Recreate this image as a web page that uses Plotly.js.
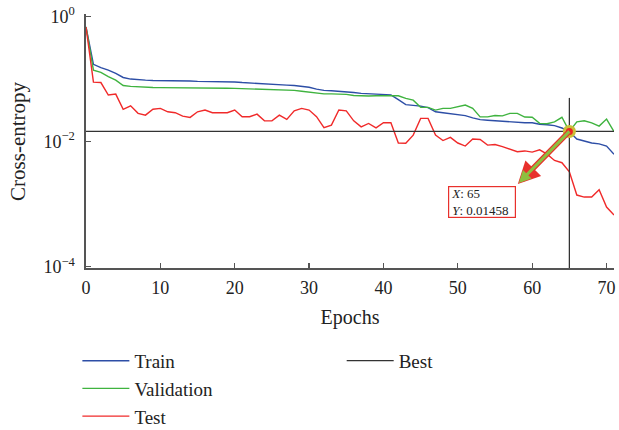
<!DOCTYPE html>
<html><head><meta charset="utf-8">
<script src="https://cdn.plot.ly/plotly-3.0.1.min.js"></script>
<style>html,body{margin:0;padding:0;background:#fff}#chart{width:619px;height:430px}</style>
</head><body><div id="chart"></div>
<script>
const epochs = [0,1,2,3,4,5,6,7,8,9,10,11,12,13,14,15,16,17,18,19,20,21,22,23,24,25,26,27,28,29,30,31,32,33,34,35,36,37,38,39,40,41,42,43,44,45,46,47,48,49,50,51,52,53,54,55,56,57,58,59,60,61,62,63,64,65,66,67,68,69,70,71];
const trainLoss = [0.68,0.172,0.152,0.139,0.123,0.106,0.100,0.097,0.096,0.095,
  0.095,0.094,0.094,0.093,0.093,0.092,0.092,0.091,0.091,0.090,
  0.090,0.088,0.087,0.086,0.085,0.083,0.082,0.080,0.079,0.077,
  0.074,0.069,0.066,0.065,0.064,0.063,0.061,0.059,0.058,0.057,
  0.056,0.056,0.047,0.039,0.038,0.037,0.035,0.030,0.029,0.028,
  0.0275,0.026,0.024,0.0225,0.022,0.0215,0.021,0.0205,0.0203,0.020,
  0.020,0.019,0.0186,0.018,0.0165,0.0145,0.011,0.0103,0.0095,0.0092,
  0.0085,0.0063];
const validationLoss = [0.68,0.139,0.128,0.109,0.096,0.079,0.0765,0.075,0.074,0.0735,
  0.073,0.073,0.0728,0.0725,0.0722,0.072,0.072,0.0718,0.0715,0.0712,
  0.071,0.0705,0.070,0.069,0.068,0.067,0.0665,0.066,0.066,0.064,
  0.062,0.059,0.058,0.058,0.0575,0.057,0.0545,0.0535,0.0535,0.054,
  0.054,0.054,0.054,0.049,0.046,0.0353,0.0353,0.0319,0.034,0.034,
  0.036,0.0384,0.034,0.0249,0.0249,0.0262,0.0258,0.0283,0.0283,0.0247,
  0.0245,0.0196,0.0193,0.0207,0.0245,0.01458,0.0207,0.0215,0.020,0.0177,
  0.0229,0.0144];
const testLoss = [0.68,0.0895,0.088,0.0555,0.0575,0.0327,0.0374,0.0283,0.0265,0.033,
  0.034,0.030,0.029,0.0255,0.0244,0.030,0.032,0.029,0.029,0.029,
  0.032,0.025,0.025,0.0275,0.0215,0.0215,0.0265,0.0226,0.031,0.034,
  0.032,0.025,0.0167,0.0184,0.032,0.031,0.0215,0.0172,0.0195,0.0166,
  0.020,0.020,0.0095,0.0094,0.0127,0.0235,0.0235,0.0127,0.0104,0.0117,
  0.0095,0.0085,0.011,0.0108,0.0088,0.009,0.0083,0.0076,0.0069,0.0071,
  0.0068,0.0074,0.0063,0.005,0.0046,0.0033,0.0014,0.0013,0.0013,0.0017,
  0.0009,0.00067];
const bestEpoch = 65;
const bestValue = 0.01458;
const bestVLineTop = 0.05;
const bestVLineBottom = 0.00009;
const xTickVals = [0,10,20,30,40,50,60,70];
const yTickVals = [0.0001, 0.01, 1];
const yTickText = ['10<sup>−4</sup>','10<sup>−2</sup>','10<sup>0</sup>'];
const seriesNames = ['Train','Validation','Test','Best'];
const xTitle = 'Epochs';
const yTitle = 'Cross-entropy';

const F = 'Liberation Serif, Times New Roman, serif';
const lastEpoch = epochs[epochs.length-1];

const traces = [
  {x:epochs, y:trainLoss, name:seriesNames[0], mode:'lines', line:{color:'#2d4ea6', width:1.4}, legend:'legend'},
  {x:epochs, y:validationLoss, name:seriesNames[1], mode:'lines', line:{color:'#3fb33f', width:1.4}, legend:'legend'},
  {x:epochs, y:testLoss, name:seriesNames[2], mode:'lines', line:{color:'#f02a2a', width:1.4}, legend:'legend'},
  {x:[epochs[0], lastEpoch, null, bestEpoch, bestEpoch], y:[bestValue, bestValue, null, bestVLineTop, bestVLineBottom],
   name:seriesNames[3], mode:'lines', line:{color:'#333', width:1.3}, legend:'legend2'},
  {x:[bestEpoch], y:[bestValue], mode:'markers', showlegend:false,
   marker:{color:'#ee2222', size:10, line:{color:'#c9be3a', width:3}}}
];

const bestLog = Math.log10(bestValue);
const layout = {
  width:619, height:430,
  margin:{l:86, r:5, t:14, b:162.25, pad:0, autoexpand:false},
  paper_bgcolor:'#fff', plot_bgcolor:'#fff',
  font:{family:F, size:18, color:'#222'},
  showlegend:true,
  xaxis:{range:[0,71], tickvals:xTickVals, ticks:'inside', ticklen:5, tickwidth:1.3, tickcolor:'#555',
    showline:true, linecolor:'#555', linewidth:1.6, showgrid:false, zeroline:false, automargin:false,
    tickfont:{size:18, family:F, color:'#222'}, ticklabelstandoff:3, tickangle:0,
    title:{text:xTitle, font:{size:20, family:F, color:'#222'}, standoff:13}},
  yaxis:{type:'log', range:[-4.02,0.04], tickvals:yTickVals, ticktext:yTickText, ticks:'inside', ticklen:5, tickwidth:1.3, tickcolor:'#555',
    showline:true, linecolor:'#555', linewidth:1.6, showgrid:false, zeroline:false, automargin:false,
    tickfont:{size:18, family:F, color:'#222'}, ticklabelstandoff:6},
  legend:{xref:'container', yref:'container', x:0.125, y:0.205, xanchor:'left', yanchor:'top',
    bgcolor:'rgba(0,0,0,0)', font:{size:19, family:F, color:'#222'}, tracegroupgap:0, itemwidth:47},
  legend2:{xref:'container', yref:'container', x:0.552, y:0.205, xanchor:'left', yanchor:'top',
    bgcolor:'rgba(0,0,0,0)', font:{size:19, family:F, color:'#222'}, itemwidth:47},
  annotations:[
    {x:-0.129, y:0.5, xref:'paper', yref:'paper', xanchor:'center', yanchor:'middle', showarrow:false,
     text:yTitle, textangle:-90, font:{size:21, family:F, color:'#222'}},
    {x:bestEpoch, y:bestLog, xref:'x', yref:'y', text:'', showarrow:true, ax:-53, ay:54,
     arrowside:'start', arrowhead:2, startarrowhead:2, startarrowsize:0.8, arrowsize:0.8, arrowwidth:5.5, arrowcolor:'#e8302c'},
    {x:bestEpoch, y:bestLog, xref:'x', yref:'y', text:'', showarrow:true, ax:-52, ay:53,
     arrowside:'start', arrowhead:2, startarrowhead:2, startarrowsize:0.8, arrowsize:0.8, arrowwidth:3, arrowcolor:'#8dbf3f'},
    {x:48.7, y:-2.97, xref:'x', yref:'y', xanchor:'left', yanchor:'middle', showarrow:false,
     text:'<i>X</i>: 65<br><i>Y</i>: 0.01458', align:'left', width:62, height:26,
     font:{size:13, family:F, color:'#222'}, bgcolor:'#fff', bordercolor:'#e8302c', borderwidth:1.2, borderpad:2}
  ]
};
Plotly.newPlot('chart', traces, layout, {displayModeBar:false, staticPlot:true});
</script></body></html>
